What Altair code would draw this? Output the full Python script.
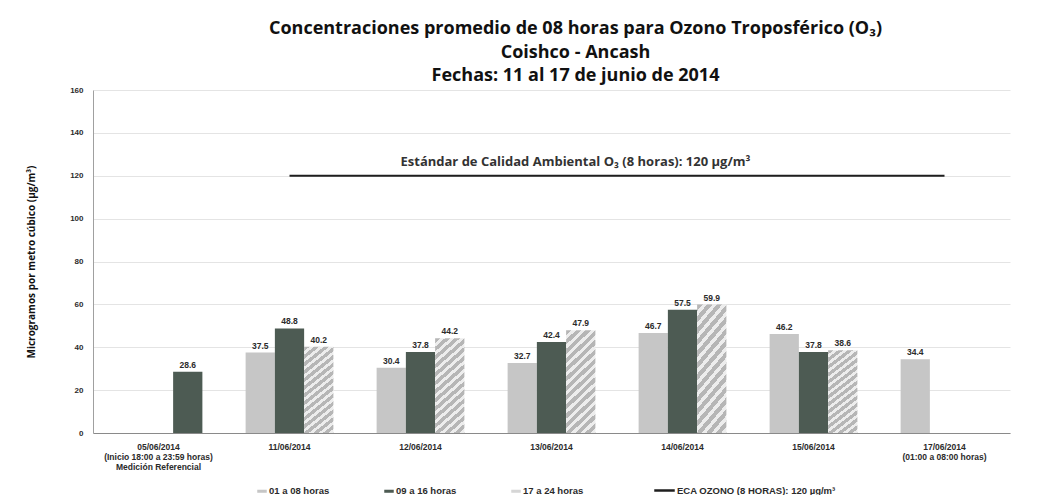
import altair as alt
import pandas as pd

# ---------------- data ----------------
fechas = ["05/06/2014", "11/06/2014", "12/06/2014", "13/06/2014",
          "14/06/2014", "15/06/2014", "17/06/2014"]
periodos = ["01 a 08 horas", "09 a 16 horas", "17 a 24 horas"]

v_01_08 = [None, 37.5, 30.4, 32.7, 46.7, 46.2, 34.4]
v_09_16 = [None, 48.8, 37.8, 42.4, 57.5, 37.8, None]
v_17_24 = [28.6, 40.2, 44.2, 47.9, 59.9, 38.6, None]
# colour group of each 17-24 bar (the 05/06 reference bar is drawn dark)
g_17_24 = ["09 a 16 horas", "17 a 24 horas", "17 a 24 horas", "17 a 24 horas",
           "17 a 24 horas", "17 a 24 horas", "17 a 24 horas"]

eca_fechas = ["11/06/2014", "12/06/2014", "13/06/2014", "14/06/2014",
              "15/06/2014", "17/06/2014"]
eca_valor = 120
eca_serie = "ECA OZONO (8 HORAS): 120 µg/m³"
eca_texto = "Estándar de Calidad Ambiental O₃ (8 horas): 120 µg/m³"

etiquetas_x = {
    "05/06/2014": ["05/06/2014", "(Inicio 18:00 a 23:59 horas)", "Medición Referencial"],
    "17/06/2014": ["17/06/2014", "(01:00 a 08:00 horas)"],
}

titulo = ["Concentraciones promedio de 08 horas para Ozono Troposférico (O₃)",
          "Coishco - Ancash",
          "Fechas: 11 al 17 de junio de 2014"]
y_titulo = "Microgramos por metro cúbico (µg/m³)"

# ---------------- tables ----------------
rows = []
for i, f in enumerate(fechas):
    for per, vals in zip(periodos, [v_01_08, v_09_16, v_17_24]):
        v = vals[i]
        if v is None:
            continue
        grupo = g_17_24[i] if per == "17 a 24 horas" else per
        rows.append({"fecha": f, "periodo": per, "valor": v, "grupo": grupo})
df = pd.DataFrame(rows)

eca_df = pd.DataFrame({"fecha": eca_fechas,
                       "valor": [eca_valor] * len(eca_fechas),
                       "serie": [eca_serie] * len(eca_fechas)})
eca_lbl = pd.DataFrame({"fecha": ["13/06/2014"], "valor": [eca_valor], "t": [eca_texto]})

# ---------------- styles ----------------
LBL_FONT = "Liberation Sans"
TXT = "#2b2b2b"

# diagonal hatch approximated with a striped linear gradient
n_per = 44
stops = []
for i in range(n_per):
    a = i / n_per
    m = (i + 0.55) / n_per
    b = (i + 1) / n_per
    stops += [alt.GradientStop(offset=a, color="#b6b6b6"),
              alt.GradientStop(offset=m, color="#b6b6b6"),
              alt.GradientStop(offset=m, color="#ededed"),
              alt.GradientStop(offset=b, color="#ededed")]
hatch = alt.LinearGradient(gradient="linear", stops=stops, x1=0, y1=0, x2=1, y2=3.7)

label_expr = " : ".join(
    f"datum.value == '{k}' ? {v!r}" for k, v in etiquetas_x.items()
) + " : datum.value"

x_enc = alt.X("fecha:N", sort=fechas,
              scale=alt.Scale(domain=fechas, paddingInner=0.33, paddingOuter=0.165),
              axis=alt.Axis(title=None, labelAngle=0, labelExpr=label_expr,
                            labelFont=LBL_FONT, labelFontSize=8.5, labelFontWeight="bold",
                            labelColor=TXT, labelPadding=9, labelLineHeight=10,
                            ticks=False, grid=False, domainColor="#8a8a8a", domainWidth=1))
xo_enc = alt.XOffset("periodo:N", sort=periodos, scale=alt.Scale(domain=periodos))
y_enc = alt.Y("valor:Q",
              scale=alt.Scale(domain=[0, 160], nice=False),
              axis=alt.Axis(title=y_titulo, values=list(range(0, 161, 20)),
                            labelFont=LBL_FONT, labelFontSize=8, labelFontWeight="bold",
                            labelColor=TXT, labelPadding=10, ticks=False,
                            domainColor="#a0a0a0", gridColor="#e4e4e4",
                            titleFont="Open Sans", titleFontSize=10, titleFontWeight="bold",
                            titleColor="#111111", titlePadding=33))

bars = alt.Chart(df).mark_bar().encode(
    x=x_enc, xOffset=xo_enc, y=y_enc,
    color=alt.condition(
        "datum.grupo == '17 a 24 horas'",
        alt.value(hatch),
        alt.Color("grupo:N",
                  scale=alt.Scale(domain=periodos, range=["#c6c6c6", "#4d5b53", "#d6d6d6"]),
                  legend=alt.Legend(title=None, orient="none", direction="horizontal",
                                    columns=3, legendX=164, legendY=396,
                                    symbolType="M-1,-0.32H1V0.32H-1Z", symbolSize=90,
                                    symbolStrokeWidth=0, labelFont=LBL_FONT,
                                    labelFontSize=9.5, labelFontWeight="bold",
                                    labelColor=TXT, labelOffset=2, columnPadding=54,
                                    padding=0))),
)

vals = alt.Chart(df).mark_text(dy=-7, font=LBL_FONT, fontSize=8.5, fontWeight="bold",
                               color=TXT).encode(
    x=x_enc, xOffset=xo_enc, y=y_enc, text=alt.Text("valor:Q", format=".1f"))

line = alt.Chart(eca_df).mark_line(strokeWidth=2).encode(
    x=x_enc, y=y_enc,
    stroke=alt.Stroke("serie:N", scale=alt.Scale(range=["#1e1e1e"]),
                      legend=alt.Legend(title=None, orient="none", legendX=560, legendY=389,
                                        symbolType="stroke", symbolSize=420,
                                        symbolStrokeWidth=2.5, labelFont=LBL_FONT,
                                        labelFontSize=9.5, labelFontWeight="bold",
                                        labelColor=TXT, labelOffset=1, padding=0)))

eca_t = alt.Chart(eca_lbl).mark_text(dx=24, dy=-14, font="Open Sans", fontSize=13,
                                     fontWeight="bold", color="#333333").encode(
    x=x_enc, y=y_enc, text="t:N")

chart = alt.layer(bars, vals, line, eca_t).properties(
    width=917, height=343,
    autosize=alt.AutoSizeParams(type="none"),
    padding={"left": 85, "top": 82, "right": 16, "bottom": 62},
    title=alt.TitleParams(text=titulo, font="Open Sans", fontSize=18, fontWeight="bold",
                          color="#111111", lineHeight=23.5, anchor="middle", dx=24,
                          offset=1),
).configure(
    background="white",
    style={"cell": {"stroke": "transparent", "strokeWidth": 0}},
).configure_view(stroke="transparent", strokeWidth=0).configure_axisX(grid=False)

chart.save("out.html", embed_options={"renderer": "svg", "actions": False})
